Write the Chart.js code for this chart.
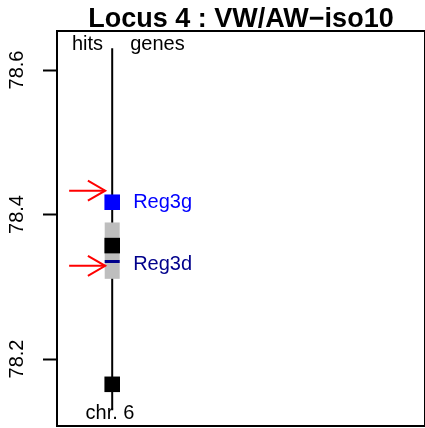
<!DOCTYPE html>
<html>
<head>
<meta charset="utf-8">
<script src="https://cdn.jsdelivr.net/npm/chart.js"></script>
<style>
  html, body { margin: 0; padding: 0; background: #fff; overflow: hidden; }
  canvas { display: block; }
</style>
</head>
<body>
<canvas id="myChart" width="425" height="428"></canvas>
<script>
// chart data (positions in Mb on chr. 6)
const titleText = 'Locus 4 : VW/AW\u2212iso10';
const yTicks = [78.2, 78.4, 78.6];
const yRange = [78.1073, 78.654];
const chrLabel = 'chr. 6';
const chrSpan = [78.129, 78.63];
const hitPos = [78.357, 78.165];           // black squares
const arrowPos = [78.433, 78.329];         // red arrows
const regionSpan = [78.311, 78.389];       // grey block
const geneNames = ['Reg3g', 'Reg3d'];
const genePos = [78.417, 78.335];
const geneLabelPos = [78.417, 78.331];
const geneColors = ['#0000FF', '#00008B'];

// x positions (0..1 across the plot box)
const chrX = 0.150;
const arrowFrom = 0.033, arrowTo = 0.131;
const labelX = 0.207;

const FONT = '"Liberation Sans", Arial, sans-serif';

const datasets = [
    {
        // chromosome line
        type: 'line',
        data: chrSpan.map(y => ({ x: chrX, y: y })),
        borderColor: '#000', borderWidth: 2, pointRadius: 0,
        borderCapStyle: 'butt', order: 6
    },
    {
        // grey block
        type: 'line',
        data: regionSpan.map(y => ({ x: chrX, y: y })),
        borderColor: '#BEBEBE', borderWidth: 15, pointRadius: 0,
        borderCapStyle: 'butt', order: 5
    },
    {
        // hits
        type: 'scatter',
        data: hitPos.map(y => ({ x: chrX, y: y })),
        pointStyle: 'rect', pointRadius: 11, pointBorderWidth: 0,
        backgroundColor: '#000', order: 4
    },
    {
        // genes
        type: 'scatter',
        data: genePos.map(y => ({ x: chrX, y: y })),
        pointStyle: ['rect', 'line'], pointRadius: [11, 7.5],
        pointBorderWidth: [0, 3],
        backgroundColor: geneColors, borderColor: geneColors, order: 3
    }
];
arrowPos.forEach(y => {
    datasets.push({
        type: 'line',
        data: [{ x: arrowFrom, y: y }, { x: arrowTo, y: y }],
        borderColor: '#FF0000', borderWidth: 2, pointRadius: 0, order: 1
    });
});

const decor = {
    id: 'decor',
    afterDatasetsDraw(chart) {
        const ctx = chart.ctx;
        const a = chart.chartArea;
        const xs = chart.scales.x, ys = chart.scales.y;
        ctx.save();

        // arrow heads
        ctx.strokeStyle = '#FF0000';
        ctx.lineWidth = 2;
        arrowPos.forEach(y => {
            const px = xs.getPixelForValue(arrowTo), py = ys.getPixelForValue(y);
            const len = 20, ang = Math.PI / 6;
            ctx.beginPath();
            ctx.moveTo(px - len * Math.cos(ang), py - len * Math.sin(ang));
            ctx.lineTo(px, py);
            ctx.lineTo(px - len * Math.cos(ang), py + len * Math.sin(ang));
            ctx.stroke();
        });

        // box
        ctx.strokeStyle = '#000';
        ctx.lineWidth = 2;
        ctx.strokeRect(a.left, a.top, a.right - a.left, a.bottom - a.top);

        // title
        ctx.fillStyle = '#000';
        ctx.font = 'bold 27px ' + FONT;
        ctx.textAlign = 'center';
        ctx.textBaseline = 'alphabetic';
        ctx.fillText(titleText, (a.left + a.right) / 2, 27);

        // y tick labels, rotated
        ctx.font = '20px ' + FONT;
        ctx.textBaseline = 'middle';
        yTicks.forEach(t => {
            ctx.save();
            ctx.translate(17, ys.getPixelForValue(t));
            ctx.rotate(-Math.PI / 2);
            ctx.fillText(String(t), 0, 0);
            ctx.restore();
        });

        // hits / genes / chr labels
        const topY = ys.getPixelForValue(78.636);
        ctx.textAlign = 'right';
        ctx.fillText('hits', xs.getPixelForValue(0.125), topY);
        ctx.textAlign = 'left';
        ctx.fillText('genes', xs.getPixelForValue(0.199), topY);
        ctx.textAlign = 'center';
        ctx.fillText(chrLabel, xs.getPixelForValue(0.144), ys.getPixelForValue(78.124));

        // gene names
        ctx.textAlign = 'left';
        geneNames.forEach((g, i) => {
            ctx.fillStyle = geneColors[i];
            ctx.fillText(g, xs.getPixelForValue(labelX), ys.getPixelForValue(geneLabelPos[i]));
        });
        ctx.restore();
    }
};

const ctx = document.getElementById('myChart').getContext('2d');
const myChart = new Chart(ctx, {
    type: 'scatter',
    data: { datasets: datasets },
    options: {
        responsive: false,
        animation: false,
        devicePixelRatio: 1,
        layout: { autoPadding: false, padding: { top: 31, bottom: 2, left: 0, right: 0 } },
        plugins: { legend: { display: false }, tooltip: { enabled: false } },
        scales: {
            x: { type: 'linear', min: 0, max: 1, display: false },
            y: {
                type: 'linear', min: yRange[0], max: yRange[1],
                afterBuildTicks: s => { s.ticks = yTicks.map(v => ({ value: v })); },
                afterFit: s => { s.width = 57; },
                ticks: { display: false },
                border: { display: false },
                grid: {
                    drawOnChartArea: false, drawTicks: true,
                    tickLength: 14, tickColor: '#000', tickWidth: 2
                }
            }
        }
    },
    plugins: [decor]
});
</script>
</body>
</html>
